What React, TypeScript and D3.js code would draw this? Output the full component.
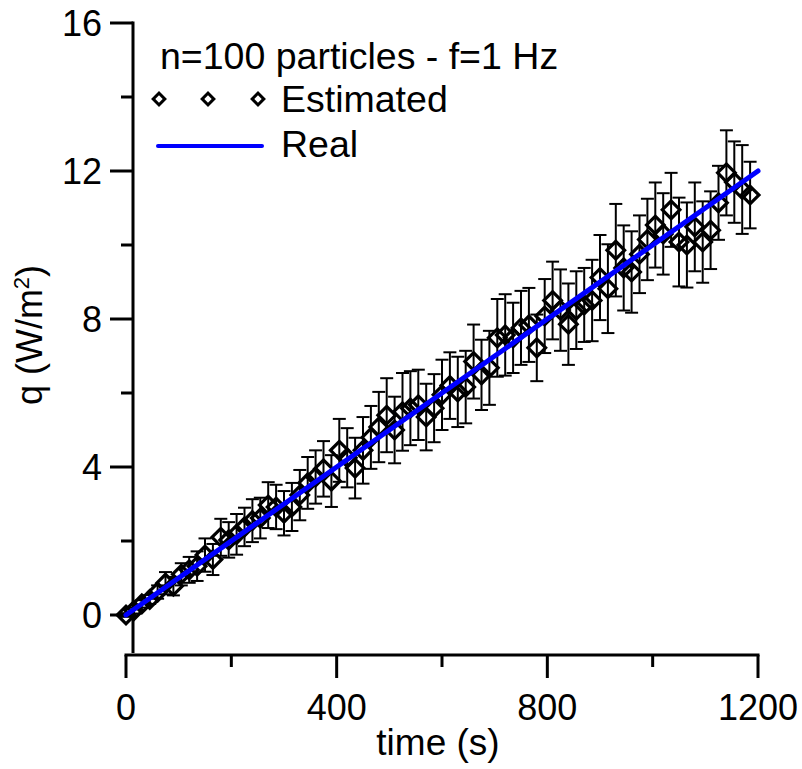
import React from "react";
import * as d3 from "d3";

const times = [
  0, 15, 30, 45, 60, 75, 90, 105, 120, 135, 150, 165, 180, 195, 210, 225, 240, 255, 270, 285,
  300, 315, 330, 345, 360, 375, 390, 405, 420, 435, 450, 465, 480, 495, 510, 525, 540, 555, 570, 585,
  600, 615, 630, 645, 660, 675, 690, 705, 720, 735, 750, 765, 780, 795, 810, 825, 840, 855, 870, 885,
  900, 915, 930, 945, 960, 975, 990, 1005, 1020, 1035, 1050, 1065, 1080, 1095, 1110, 1125, 1140, 1155, 1170, 1185,
];

const estimated = [
  0.0, 0.12, 0.3, 0.42, 0.62, 0.86, 0.78, 1.1, 1.22, 1.32, 1.62, 1.5, 2.1, 2.03, 2.18, 2.38, 2.55, 2.62, 2.97, 2.92,
  2.75, 2.92, 3.24, 3.57, 3.73, 3.95, 3.62, 4.45, 4.25, 3.97, 4.45, 4.8, 5.08, 5.4, 5.0, 5.49, 5.59, 5.68, 5.35, 5.59,
  5.95, 6.2, 6.03, 6.16, 6.85, 6.49, 6.68, 7.49, 7.57, 7.49, 7.76, 7.84, 7.22, 8.08, 8.5, 8.24, 7.86, 8.24, 8.38, 8.5,
  9.12, 8.82, 9.86, 9.38, 9.27, 9.75, 10.15, 10.54, 10.3, 10.95, 10.08, 10.0, 10.49, 10.08, 10.4, 11.14, 11.95, 11.7, 11.5, 11.35,
];

const errors = [
  0.05, 0.08, 0.1, 0.12, 0.18, 0.3, 0.25, 0.3, 0.35, 0.4, 0.45, 0.42, 0.5, 0.48, 0.55, 0.52, 0.58, 0.55, 0.62, 0.6,
  0.6, 0.65, 0.68, 0.7, 0.72, 0.75, 0.7, 0.85, 0.8, 0.82, 0.9, 0.85, 0.95, 1.0, 0.9, 1.05, 1.0, 0.95, 0.9, 0.92,
  0.95, 0.9, 0.95, 0.98, 1.0, 0.95, 1.0, 1.05, 1.1, 0.95, 1.0, 1.0, 0.9, 1.0, 1.05, 1.1, 1.1, 1.05, 1.0, 1.1,
  1.15, 1.2, 1.25, 1.15, 1.1, 1.05, 1.1, 1.15, 1.1, 1.0, 1.2, 1.15, 1.2, 1.1, 1.05, 1.0, 1.15, 1.1, 1.2, 0.9,
];

const realTimes = [0, 1200];
const realValues = [0, 12];

const xTicks = [0, 400, 800, 1200];
const xMinorTicks = [200, 600, 1000];
const yTicks = [0, 4, 8, 12, 16];
const yMinorTicks = [2, 6, 10, 14];

const legendTitle = "n=100 particles - f=1 Hz";
const legendEstimated = "Estimated";
const legendReal = "Real";
const xTitle = "time (s)";

const FONT = "Arial, 'Liberation Sans', sans-serif";

export default function App() {
  const W = 802;
  const H = 769;
  const x = d3.scaleLinear().domain([0, 1200]).range([126, 758]);
  const y = d3.scaleLinear().domain([0, 16]).range([615, 23]);

  const yAxisX = 133;
  const yAxisBottom = 653;
  const xAxisY = 655;

  const diamond = d3.symbol(d3.symbolSquare, 155)();
  const legendDiamond = d3.symbol(d3.symbolSquare, 68)();

  const line = d3
    .line<number>()
    .x((_, i) => x(realTimes[i]))
    .y((d) => y(d));

  const fs = 36;
  const lfs = 37.5;

  return (
    <svg
      width={W}
      height={H}
      style={{ position: "absolute", left: 0, top: 0, background: "#fff" }}
      fontFamily={FONT}
    >
      <rect x={0} y={0} width={W} height={H} fill="#fff" />
      {/* Y axis */}
      <line x1={yAxisX} x2={yAxisX} y1={y(16) - 1.5} y2={yAxisBottom} stroke="#000" strokeWidth={3} />
      {yTicks.map((t) => (
        <g key={"yt" + t}>
          <line x1={yAxisX - 23} x2={yAxisX} y1={y(t)} y2={y(t)} stroke="#000" strokeWidth={3} />
          <text x={102} y={y(t)} dy="0.36em" fontSize={fs} textAnchor="end" fill="#000">
            {t}
          </text>
        </g>
      ))}
      {yMinorTicks.map((t) => (
        <line key={"ym" + t} x1={yAxisX - 12} x2={yAxisX} y1={y(t)} y2={y(t)} stroke="#000" strokeWidth={3} />
      ))}
      {/* X axis */}
      <line x1={x(0) - 1.5} x2={x(1200) + 1.5} y1={xAxisY} y2={xAxisY} stroke="#000" strokeWidth={3} />
      {xTicks.map((t) => (
        <g key={"xt" + t}>
          <line x1={x(t)} x2={x(t)} y1={xAxisY} y2={xAxisY + 23} stroke="#000" strokeWidth={3} />
          <text x={x(t)} y={720} fontSize={fs} textAnchor="middle" fill="#000">
            {t}
          </text>
        </g>
      ))}
      {xMinorTicks.map((t) => (
        <line key={"xm" + t} x1={x(t)} x2={x(t)} y1={xAxisY} y2={xAxisY + 12} stroke="#000" strokeWidth={3} />
      ))}
      <text x={438} y={755} fontSize={37} textAnchor="middle" fill="#000">
        {xTitle}
      </text>
      <text transform={`translate(42,335) rotate(-90)`} fontSize={36} textAnchor="middle" fill="#000">
        q (W/m
        <tspan fontSize={22} dy={-13}>
          2
        </tspan>
        <tspan dy={13}>)</tspan>
      </text>

      {/* Error bars */}
      {times.map((t, i) => {
        const cx = x(t);
        const top = y(estimated[i] + errors[i]);
        const bot = y(estimated[i] - errors[i]);
        return (
          <g key={"e" + i} stroke="#000" strokeWidth={2}>
            <line x1={cx} x2={cx} y1={top} y2={bot} />
            <line x1={cx - 6.5} x2={cx + 6.5} y1={top} y2={top} />
            <line x1={cx - 6.5} x2={cx + 6.5} y1={bot} y2={bot} />
          </g>
        );
      })}
      {/* Diamonds */}
      {times.map((t, i) => (
        <path
          key={"d" + i}
          d={diamond!}
          transform={`translate(${x(t)},${y(estimated[i])}) rotate(45)`}
          fill="none"
          stroke="#000"
          strokeWidth={3.2}
        />
      ))}
      {/* Real line */}
      <path d={line(realValues)!} fill="none" stroke="#0000ff" strokeWidth={5} strokeLinecap="round" />

      {/* Legend */}
      <text x={160} y={69} fontSize={lfs} fill="#000">
        {legendTitle}
      </text>
      {[159, 208, 258].map((lx) => (
        <path
          key={"ld" + lx}
          d={legendDiamond!}
          transform={`translate(${lx},99) rotate(45)`}
          fill="none"
          stroke="#000"
          strokeWidth={3}
        />
      ))}
      <text x={281} y={112} fontSize={lfs} fill="#000">
        {legendEstimated}
      </text>
      <line x1={158} x2={262} y1={146} y2={146} stroke="#0000ff" strokeWidth={4} strokeLinecap="round" />
      <text x={281} y={157} fontSize={lfs} fill="#000">
        {legendReal}
      </text>
    </svg>
  );
}
